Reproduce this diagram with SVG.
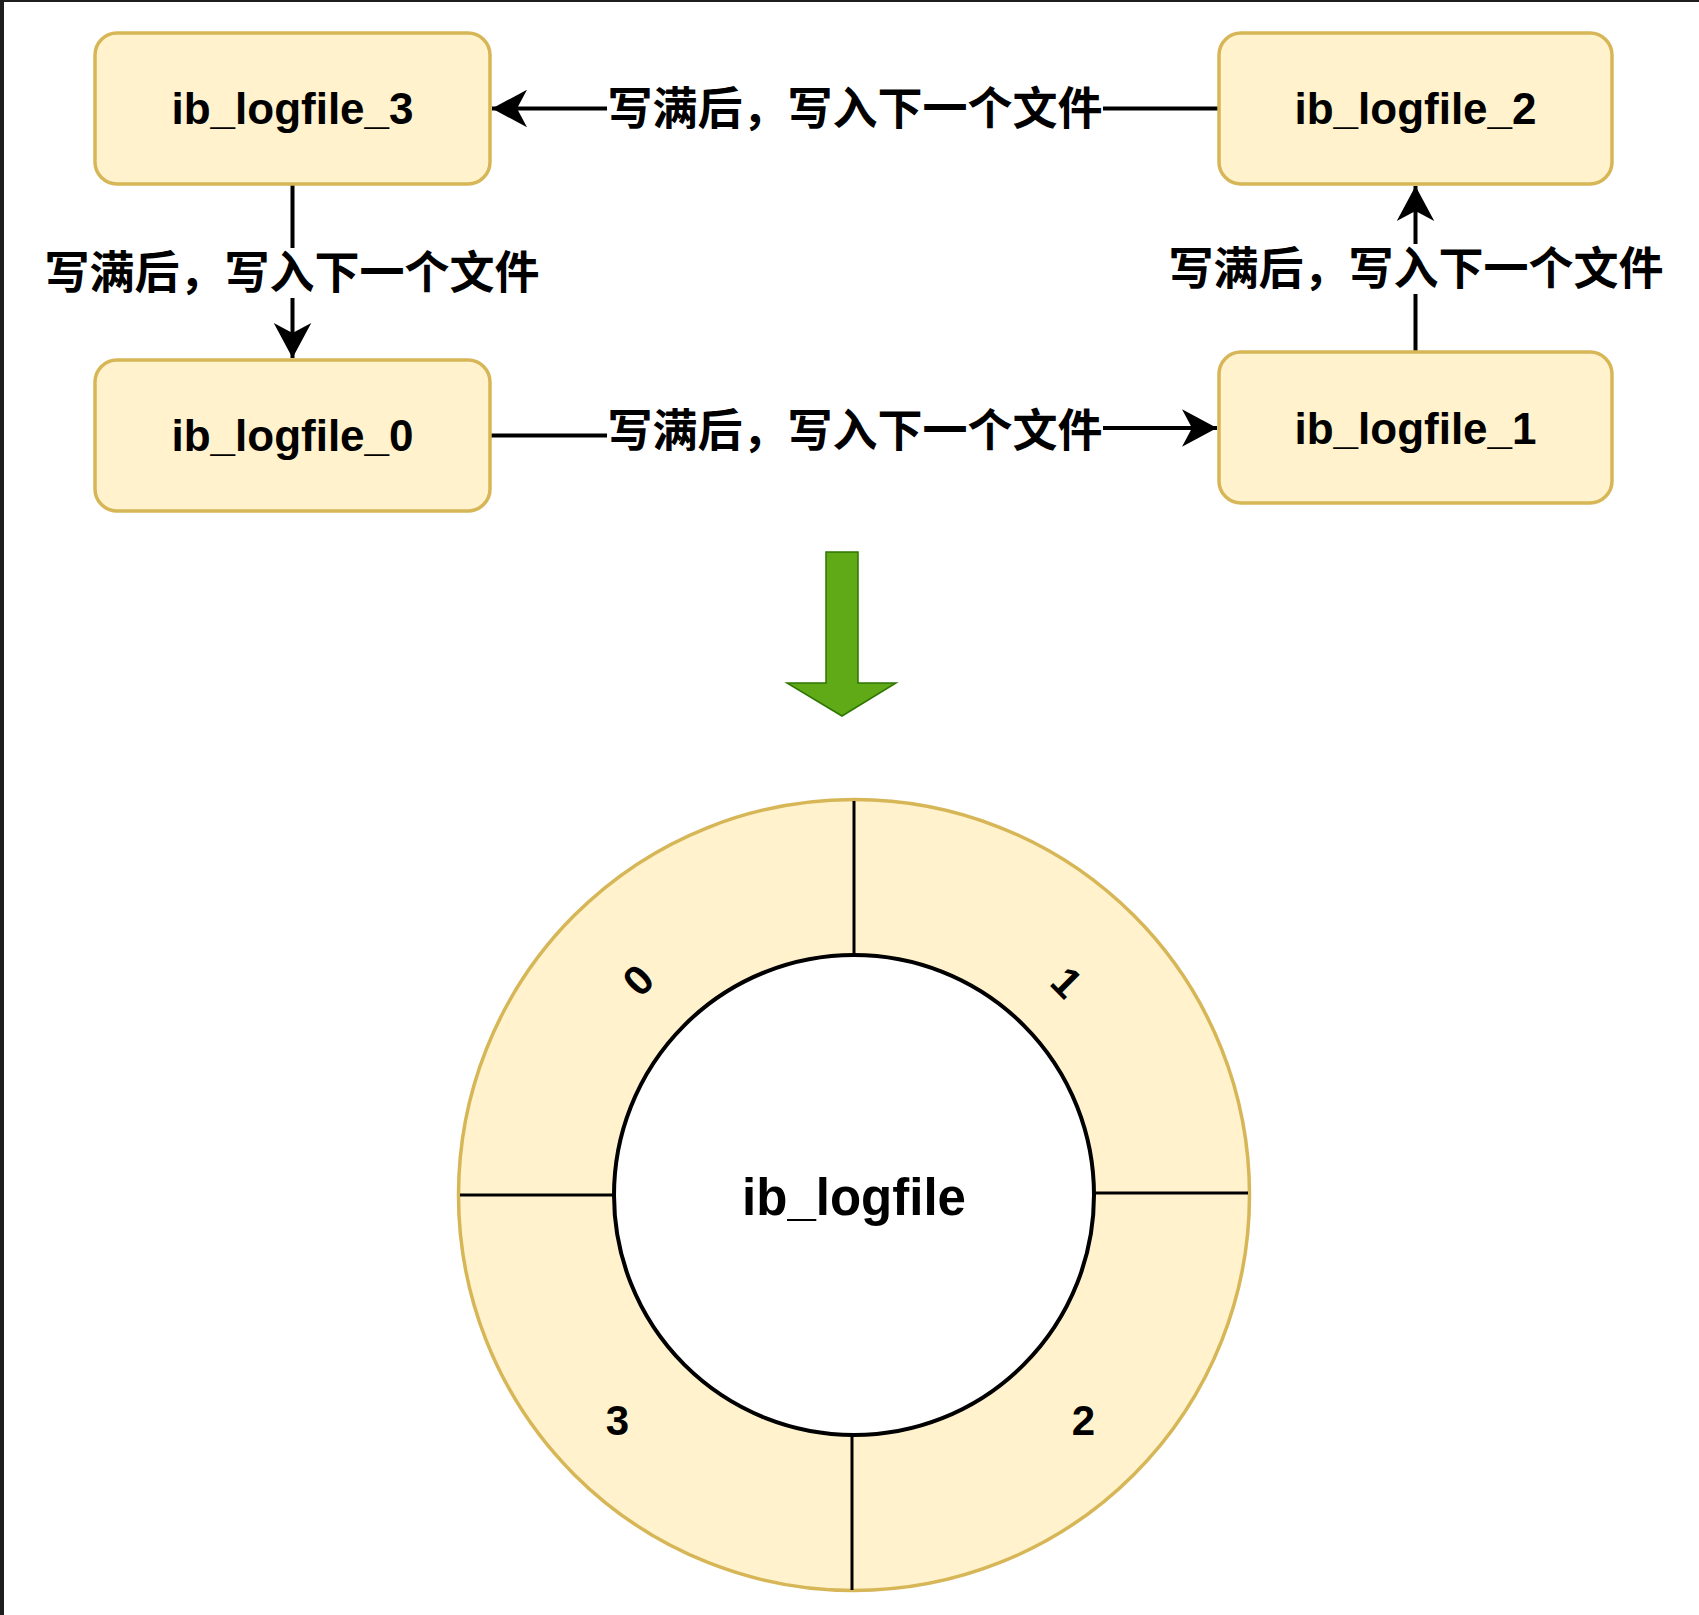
<svg xmlns="http://www.w3.org/2000/svg" width="1699" height="1615" viewBox="0 0 1699 1615">
<style>
.box{fill:#fff2cc;stroke:#d6b656;stroke-width:3.5}
.lbl{font-family:"Liberation Sans","Noto Sans CJK SC",sans-serif;font-weight:bold;fill:#000;text-anchor:middle}
.cn{font-family:"Noto Sans CJK SC","Liberation Sans",sans-serif;font-weight:bold;fill:#000;text-anchor:middle;font-size:45px}
.edge{fill:none;stroke:#000;stroke-width:4}
.bg{fill:#fff}
</style>
<defs>
<marker id="arr" markerUnits="userSpaceOnUse" markerWidth="40" markerHeight="40" viewBox="-30 -16 32 32" refX="0" refY="0" orient="auto">
<path d="M0,0 L-28,-15 L-20,0 L-28,15 Z" fill="#000"/>
</marker>
</defs>
<rect x="0" y="0" width="1699" height="1615" fill="#fff"/>
<rect x="0" y="0" width="1699" height="2" fill="#1e1e1e"/>
<rect x="0" y="0" width="4" height="1615" fill="#1e1e1e"/>

<g id="connectors">
<path class="edge" d="M1219,108.5 H492" marker-end="url(#arr)"/>
<rect class="bg" x="607" y="84" width="496" height="50"/>
<text class="cn" x="855" y="125">写满后，写入下一个文件</text>

<path class="edge" d="M292.5,184 V358" marker-end="url(#arr)"/>
<rect class="bg" x="45" y="248" width="494" height="50"/>
<text class="cn" x="292" y="289">写满后，写入下一个文件</text>

<path class="edge" d="M1415.5,352 V186" marker-end="url(#arr)"/>
<rect class="bg" x="1170" y="244" width="494" height="50"/>
<text class="cn" x="1416" y="285">写满后，写入下一个文件</text>

<path class="edge" d="M490,435.5 H855 V428 H1217" marker-end="url(#arr)"/>
<rect class="bg" x="607" y="406" width="496" height="50"/>
<text class="cn" x="855" y="447">写满后，写入下一个文件</text>
</g>

<g id="ib_logfile_3">
<rect class="box" x="95" y="33" width="395" height="151" rx="22"/>
<text class="lbl" x="292.5" y="124" font-size="44">ib_logfile_3</text>
</g>
<g id="ib_logfile_2">
<rect class="box" x="1219" y="33" width="393" height="151" rx="22"/>
<text class="lbl" x="1415.5" y="124" font-size="44">ib_logfile_2</text>
</g>
<g id="ib_logfile_0">
<rect class="box" x="95" y="360" width="395" height="151" rx="22"/>
<text class="lbl" x="292.5" y="451" font-size="44">ib_logfile_0</text>
</g>
<g id="ib_logfile_1">
<rect class="box" x="1219" y="352" width="393" height="151" rx="22"/>
<text class="lbl" x="1415.5" y="444" font-size="44">ib_logfile_1</text>
</g>

<g id="green_arrow">
<polygon points="826,552 858,552 858,683 896,683 842,716 787,683 826,683" fill="#60a917" stroke="#2d7600" stroke-width="1.5"/>
</g>

<g id="ring">
<circle cx="854" cy="1195" r="395.5" fill="#fff2cc" stroke="#d6b656" stroke-width="3.5"/>
<circle cx="854" cy="1195" r="240" fill="#fff" stroke="#000" stroke-width="4"/>
<line x1="854" y1="801" x2="854" y2="955" stroke="#000" stroke-width="3"/>
<line x1="852" y1="1435" x2="852" y2="1590" stroke="#000" stroke-width="3"/>
<line x1="460" y1="1195" x2="614" y2="1195" stroke="#000" stroke-width="3"/>
<line x1="1094" y1="1193" x2="1248" y2="1193" stroke="#000" stroke-width="3"/>
<text class="lbl" x="854" y="1215" font-size="51">ib_logfile</text>
<text class="lbl" x="638" y="995" font-size="42" transform="rotate(-45 638 980)">0</text>
<text class="lbl" x="1067" y="997" font-size="42" transform="rotate(45 1067 982)">1</text>
<text class="lbl" x="1083.5" y="1434.5" font-size="42">2</text>
<text class="lbl" x="617.5" y="1434.5" font-size="42">3</text>
</g>
</svg>
